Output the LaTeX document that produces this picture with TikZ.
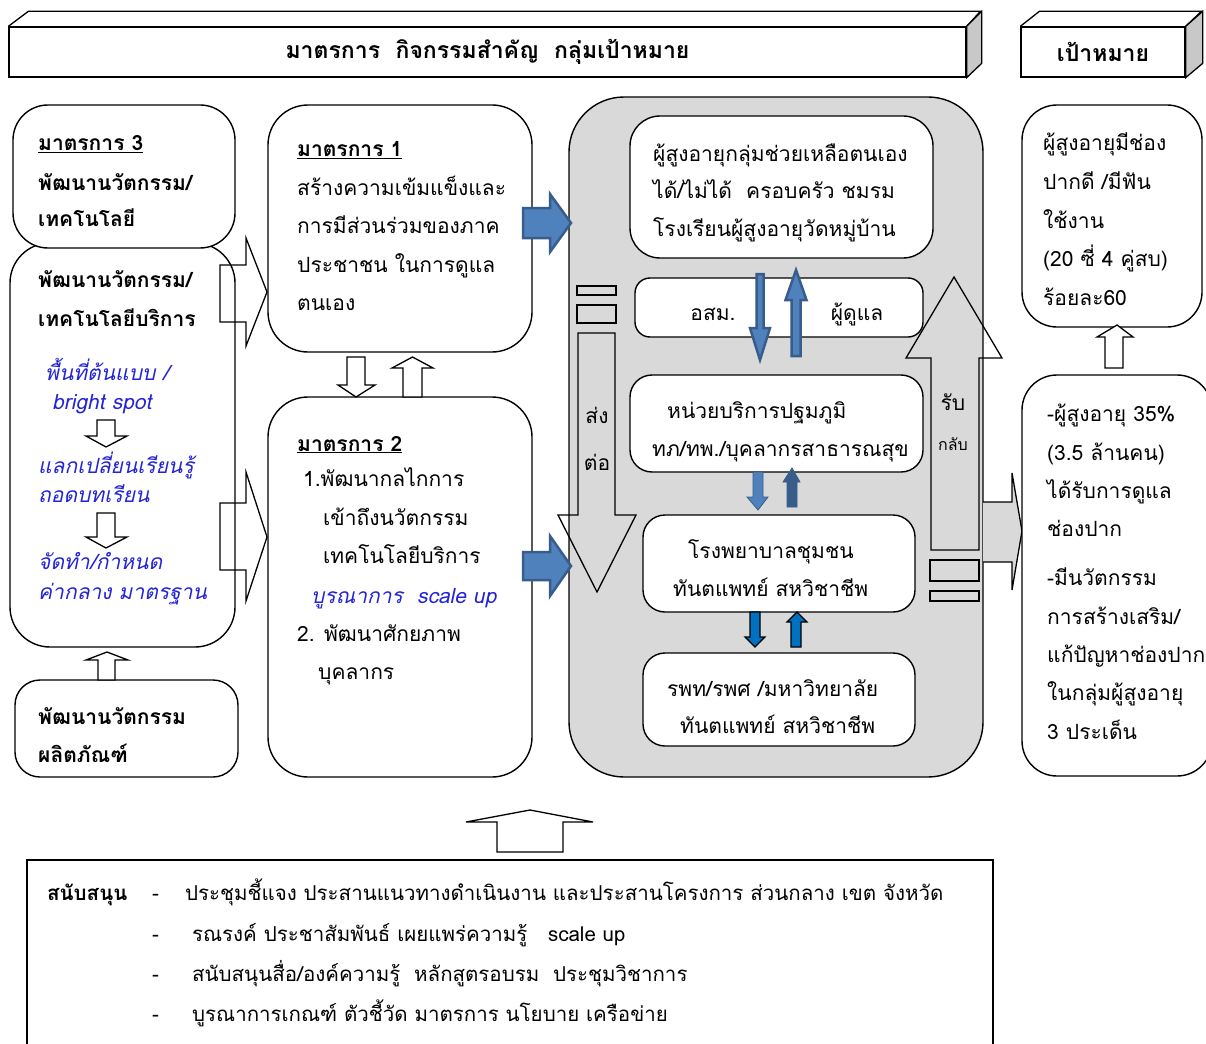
\documentclass[tikz,border=0pt]{standalone}
\usepackage{fontspec}
\setmainfont[Script=Thai]{Loma}
\newcommand{\bodysize}{\fontsize{21}{25}\selectfont}

\definecolor{boxgray}{RGB}{217,217,217}
\definecolor{facegray}{RGB}{200,200,200}
\definecolor{arrblue}{RGB}{79,129,189}
\definecolor{arrline}{RGB}{56,93,138}
\definecolor{brightblue}{RGB}{0,112,192}
\definecolor{txtblue}{RGB}{35,35,215}

\tikzset{
  rbox/.style={draw, line width=1.4pt, fill=white, rounded corners=#1, inner sep=0pt, outer sep=0pt},
  rbox/.default=22pt,
  hdbox/.style={draw, line width=1.3pt, fill=white, inner sep=0pt, font=\fontsize{23}{26}\selectfont},
  txt/.style={anchor=base west, inner sep=0pt, font=\bodysize},
  ctxt/.style={anchor=base, inner sep=0pt, font=\bodysize},
  bltxt/.style={txt, font=\bodysize\itshape, text=txtblue},
  supptxt/.style={txt, font=\fontsize{20.5}{24}\selectfont},
  hollow/.style={draw, line width=1.3pt, fill=white},
  openarr/.style={draw, line width=1.3pt},
  bigblue/.style={draw=arrline, line width=2.5pt, fill=arrblue},
  midblue/.style={draw=arrline, line width=0.8pt, fill=arrblue},
  darkblue/.style={draw=arrline, line width=0.8pt, fill=arrline},
  brblue/.style={draw, line width=1.2pt, fill=brightblue},
}

\begin{document}
\begin{tikzpicture}[x=1pt, y=-1pt]
\useasboundingbox (0,0) rectangle (1206,1043);
\fill[white] (0,0) rectangle (1206,1043);

% header
\node[hdbox, minimum width=957pt, minimum height=50pt] (hd1) at (487.5,52) {\textbf{มาตรการ~~กิจกรรมสำคัญ~~กลุ่มเป้าหมาย}};
\draw[line width=1.3pt] (hd1.north west) -- ++(20,-15) -- ++(952,0) -- (hd1.north east);
\draw[line width=1.3pt, fill=facegray] (hd1.north east) -- ++(15,-15) -- ++(0,52) -- (hd1.south east) -- cycle;
\node[hdbox, minimum width=164pt, minimum height=50pt] (hd2) at (1103,52) {\textbf{เป้าหมาย}};
\draw[line width=1.3pt] (hd2.north west) -- ++(19,-15) -- ++(162,0) -- (hd2.north east);
\draw[line width=1.3pt, fill=facegray] (hd2.north east) -- ++(17,-15) -- ++(0,52) -- (hd2.south east) -- cycle;

% left column
\node[rbox=40pt, minimum width=225pt, minimum height=404pt] (inno) at (122.5,445) {};
\node[rbox=35pt, minimum width=222pt, minimum height=143pt] (m3) at (124,176.5) {};
\node[rbox=25pt, minimum width=223pt, minimum height=97pt] (prod) at (126.5,728.5) {};

\node[txt] (m3a) at (38,151) {\underline{\textbf{มาตรการ 3}}};
\node[txt] (m3b) at (38,190) {\textbf{พัฒนานวัตกรรม/}};
\node[txt] (m3c) at (38,226) {\textbf{เทคโนโลยี}};

\node[txt] (inno1) at (38,287) {\textbf{พัฒนานวัตกรรม/}};
\node[txt] (inno2) at (38,326) {\textbf{เทคโนโลยีบริการ}};
\node[bltxt] (inno3) at (45,380) {พื้นที่ต้นแบบ /};
\node[bltxt] (inno4) at (52,409) {bright spot};
\node[bltxt] (inno5) at (38,473) {แลกเปลี่ยนเรียนรู้};
\node[bltxt] (inno6) at (38,502) {ถอดบทเรียน};
\node[bltxt] (inno7) at (38,569) {จัดทำ/กำหนด};
\node[bltxt] (inno8) at (38,599) {ค่ากลาง มาตรฐาน};
\draw[hollow] (97,420) -- (115,420) -- (115,436) -- (127,436) -- (106,447) -- (86,436) -- (97,436) -- cycle;
\draw[hollow] (97,513) -- (115,513) -- (115,537) -- (127,537) -- (106,548) -- (86,537) -- (97,537) -- cycle;

\node[txt] (prod1) at (38,724) {\textbf{พัฒนานวัตกรรม}};
\node[txt] (prod2) at (38,762) {\textbf{ผลิตภัณฑ์}};
\draw[hollow] (98,680) -- (98,660) -- (86,660) -- (107,652) -- (128,660) -- (115,660) -- (115,680) -- cycle;

% left to middle
\draw[openarr] (220,265) -- (246,265) -- (246,238) -- (267,292) -- (246,346) -- (246,322) -- (220,322) -- cycle;
\draw[openarr] (220,503) -- (246,503) -- (246,472) -- (267,537) -- (246,601) -- (246,570) -- (220,570) -- cycle;

% middle column
\node[rbox=40pt, minimum width=264pt, minimum height=247pt] (m1) at (400,228.5) {};
\node[rbox=40pt, minimum width=264pt, minimum height=380pt] (m2) at (400,587) {};

\foreach \t [count=\i] in {{\underline{\textbf{มาตรการ 1}}}, สร้างความเข้มแข็งและ, การมีส่วนร่วมของภาค, ประชาชน ในการดูแล, ตนเอง}
  \node[txt] (m1t\i) at (297, 118+38.5*\i) {\t};

\node[txt] (m2a) at (297,451) {\underline{\textbf{มาตรการ 2}}};
\node[txt] (m2b) at (303,486) {1.พัฒนากลไกการ};
\node[txt] (m2c) at (323,525) {เข้าถึงนวัตกรรม};
\node[txt] (m2d) at (323,563) {เทคโนโลยีบริการ};
\node[bltxt] (m2e) at (311,603) {บูรณาการ~~scale up};
\node[txt] (m2f) at (297,641) {2. พัฒนาศักยภาพ};
\node[txt] (m2g) at (318,679) {บุคลากร};

\draw[hollow] (347,357) -- (365,357) -- (365,385) -- (375,385) -- (356,397) -- (338,385) -- (347,385) -- cycle;
\draw[hollow] (403,397) -- (422,397) -- (422,368) -- (433,368) -- (412.5,357) -- (392,368) -- (403,368) -- cycle;

% service area
\node[rbox=55pt, fill=boxgray, minimum width=414pt, minimum height=680pt] (area) at (776,437) {};

\draw[openarr] (578,333) -- (615,333) -- (615,515) -- (636,515) -- (597,592) -- (558,515) -- (578,515) -- cycle;
\draw[openarr] (577,286) rectangle (616,295);
\draw[openarr] (577,305) rectangle (616,323);
\node[ctxt] (send1) at (597,423) {ส่ง};
\node[ctxt] (send2) at (597,470) {ต่อ};

\draw[openarr] (931,550) -- (931,358) -- (906,358) -- (954,277) -- (1002,358) -- (979,358) -- (979,550) -- cycle;
\draw[openarr] (930,560) rectangle (979,581);
\draw[openarr] (930,591) rectangle (979,601);
\node[ctxt] (back1) at (953,410) {รับ};
\node[ctxt, font=\fontsize{16}{20}\selectfont] (back2) at (953,450) {กลับ};

\node[rbox=30pt, minimum width=303pt, minimum height=142pt] (elder) at (781.5,187) {};
\node[rbox=15pt, minimum width=288pt, minimum height=59pt] (vhv) at (779,307.5) {};
\node[rbox, minimum width=293pt, minimum height=97pt] (pcu) at (776.5,423.5) {};
\node[rbox, minimum width=272pt, minimum height=97pt] (crh) at (779,563.5) {};
\node[rbox, minimum width=272pt, minimum height=93pt] (gh) at (779,699.5) {};

\foreach \t [count=\i] in {ผู้สูงอายุกลุ่มช่วยเหลือตนเอง, ได้/ไม่ได้~~ครอบครัว ชมรม, โรงเรียนผู้สูงอายุวัดหมู่บ้าน}
  \node[txt] (elder\i) at (653, 123.5+37.5*\i) {\t};
\node[ctxt] (vhv1) at (713,320) {อสม.};
\node[ctxt] (vhv2) at (857,320) {ผู้ดูแล};
\node[txt] (pcu1) at (667,418) {หน่วยบริการปฐมภูมิ};
\node[txt] (pcu2) at (652,456) {ทภ/ทพ./บุคลากรสาธารณสุข};
\node[txt] (crh1) at (688,558) {โรงพยาบาลชุมชน};
\node[txt] (crh2) at (673,596) {ทันตแพทย์ สหวิชาชีพ};
\node[txt] (gh1) at (667,696) {รพท/รพศ /มหาวิทยาลัย};
\node[txt] (gh2) at (680,733) {ทันตแพทย์ สหวิชาชีพ};

% blue arrows
\draw[bigblue] (523,208) -- (550,208) -- (550,194) -- (571,223) -- (550,252) -- (550,238) -- (523,238) -- cycle;
\draw[bigblue] (523,552) -- (550,552) -- (550,536) -- (571,566) -- (550,596) -- (550,580) -- (523,580) -- cycle;
\draw[bigblue] (756.5,274) -- (763.5,274) -- (763.5,328) -- (770,328) -- (760,360) -- (750,328) -- (756.5,328) -- cycle;
\draw[bigblue] (791.5,356) -- (791.5,300) -- (785.5,300) -- (796,270) -- (806.5,300) -- (800.5,300) -- (800.5,356) -- cycle;
\draw[midblue] (753,472) -- (763,472) -- (763,497) -- (768,497) -- (758,510) -- (747,497) -- (753,497) -- cycle;
\draw[darkblue] (787,507) -- (787,482) -- (783,482) -- (792,468) -- (800,482) -- (797,482) -- (797,507) -- cycle;
\draw[brblue] (750,612) -- (760,612) -- (760,637) -- (765,637) -- (755,647) -- (745,637) -- (750,637) -- cycle;
\draw[brblue] (791,647) -- (791,622) -- (787,622) -- (797,612) -- (807,622) -- (801,622) -- (801,647) -- cycle;

% goals
\draw[openarr, fill=boxgray] (983,502) -- (1012,502) -- (1012,473) -- (1022,531) -- (1012,590) -- (1012,562) -- (983,562);
\node[rbox=35pt, minimum width=180pt, minimum height=222pt] (goal1) at (1112,216) {};
\node[rbox=35pt, minimum width=190pt, minimum height=401pt] (goal2) at (1117,575.5) {};
\foreach \t [count=\i] in {ผู้สูงอายุมีช่อง, ปากดี /มีฟัน, ใช้งาน, (20 ซี่ 4 คู่สบ), ร้อยละ60}
  \node[txt] (goal1t\i) at (1043, 112.5+38.5*\i) {\t};
\foreach \t [count=\i] in {-ผู้สูงอายุ 35\%, (3.5 ล้านคน), ได้รับการดูแล, ช่องปาก}
  \node[txt] (goal2a\i) at (1047, 383.5+38.3*\i) {\t};
\foreach \t [count=\i] in {-มีนวัตกรรม, การสร้างเสริม/, แก้ปัญหาช่องปาก, ในกลุ่มผู้สูงอายุ, 3 ประเด็น}
  \node[txt] (goal2b\i) at (1047, 547.5+38.3*\i) {\t};
\draw[hollow] (1105,368) -- (1105,337) -- (1097,337) -- (1117,325) -- (1133,337) -- (1123,337) -- (1123,368) -- cycle;

% support
\draw[hollow] (497,852) -- (497,822) -- (466,822) -- (530,810) -- (593,822) -- (563,822) -- (563,852) -- cycle;
\node[draw, line width=1.4pt, fill=white, inner sep=0pt, minimum width=966pt, minimum height=220pt] (supp) at (510,970) {};
\node[supptxt] (supp0) at (47,900) {\textbf{สนับสนุน}};
\node[supptxt] (dash0) at (152,900) {-};
\node[supptxt] (supp1) at (185,900) {ประชุมชี้แจง ประสานแนวทางดำเนินงาน และประสานโครงการ ส่วนกลาง เขต จังหวัด};
\foreach \t [count=\i] in {รณรงค์ ประชาสัมพันธ์ เผยแพร่ความรู้~~~scale up, สนับสนุนสื่อ/องค์ความรู้~~หลักสูตรอบรม~~ประชุมวิชาการ, บูรณาการเกณฑ์ ตัวชี้วัด มาตรการ นโยบาย เครือข่าย}{
  \node[supptxt] (dash\i) at (152, 901+40*\i) {-};
  \node[supptxt] (supp\i b) at (192, 901+40*\i) {\t};
}
\end{tikzpicture}
\end{document}
